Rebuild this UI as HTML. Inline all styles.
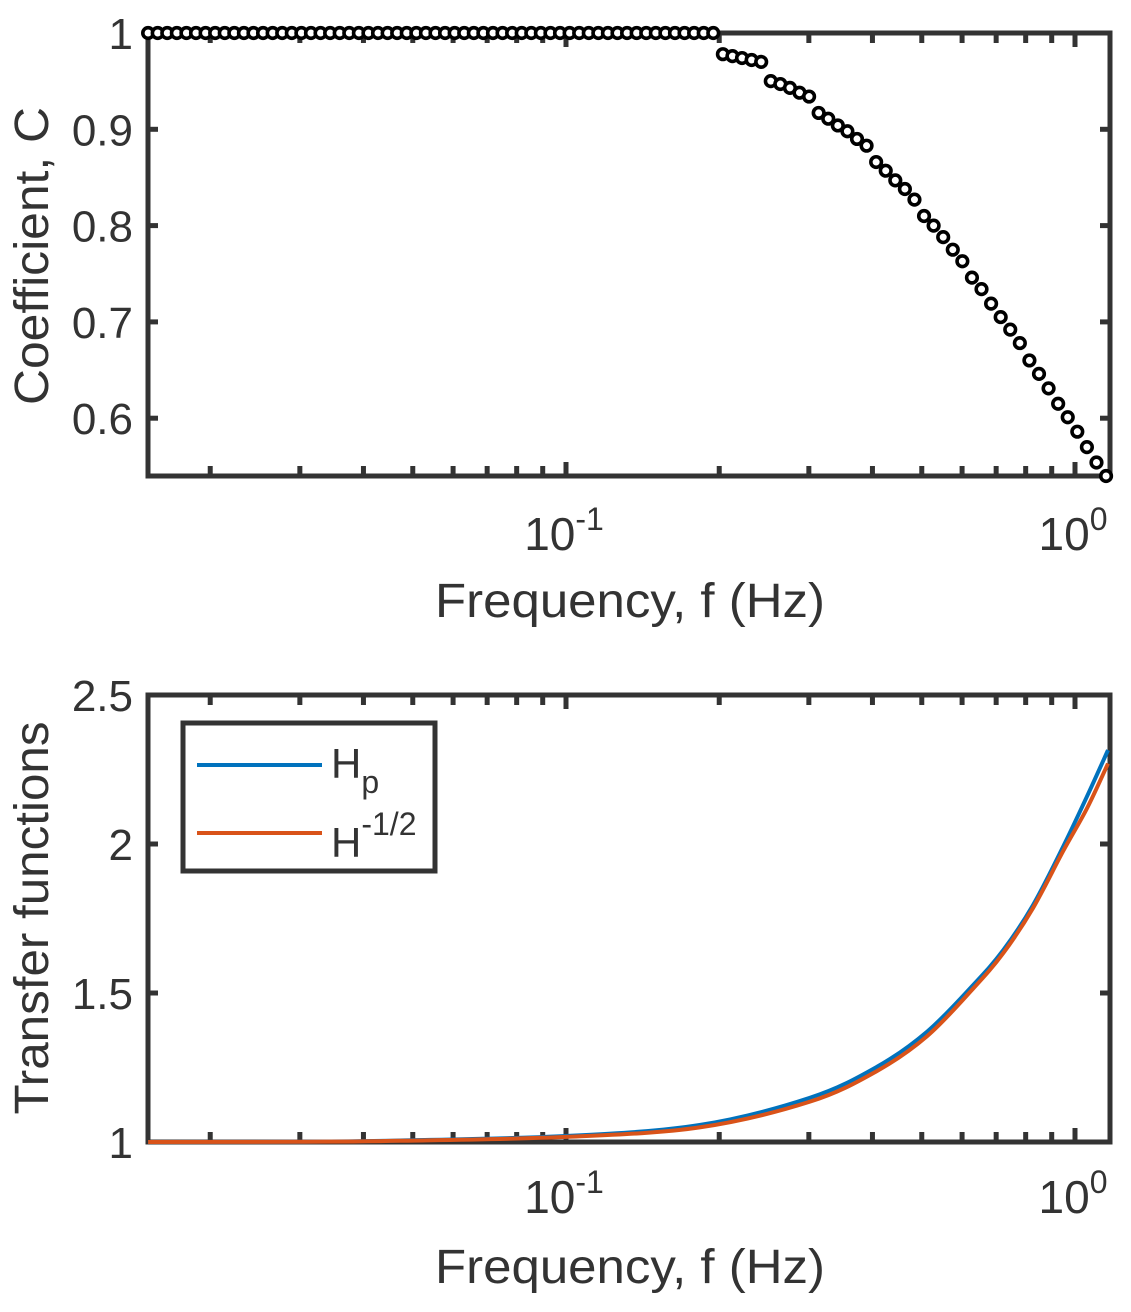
<!DOCTYPE html>
<html><head><meta charset="utf-8"><style>
html,body{margin:0;padding:0;background:#fff}
svg{display:block}
text{font-family:"Liberation Sans",Arial,sans-serif;fill:#333}
</style></head><body>
<svg id="fig" width="1131" height="1312" viewBox="0 0 1131 1312" xmlns="http://www.w3.org/2000/svg">
<g id="top"></g>
<g id="bot"></g>
</svg>
<script>
// ---- top chart data ----
const cValues = [1,1,1,1,1,1,1,1,1,1, 1,1,1,1,1,1,1,1,1,1, 1,1,1,1,1,1,1,1,1,1, 1,1,1,1,1,1,1,1,1,1, 1,1,1,1,1,1,1,1,1,1, 1,1,1,1,1,1,1,1,1,1,
 0.978,0.976,0.974,0.972,0.970,0.950,0.947,0.943,0.938,0.934,
 0.917,0.911,0.904,0.898,0.890,0.883,0.866,0.857,0.847,0.838,
 0.827,0.810,0.800,0.788,0.775,0.763,0.746,0.734,0.719,0.705,
 0.692,0.678,0.660,0.646,0.631,0.615,0.601,0.586,0.570,0.554,0.540];
const fStartLog = -1.821, fEndLog = 0.061;
const topYTicks = [0.6,0.7,0.8,0.9,1];
const topYTickLabels = ["0.6","0.7","0.8","0.9","1"];
// ---- bottom chart data ----
const hFreq = [0.0151,0.030,0.0472,0.1,0.183,0.301,0.408,0.512,0.631,0.723,0.827,0.947,1.056,1.161];
const hpValues = [1.0,1.001,1.005,1.02,1.057,1.148,1.252,1.37,1.527,1.644,1.795,1.99,2.16,2.315];
const hmValues = [1.0,1.001,1.004,1.017,1.049,1.135,1.238,1.355,1.515,1.634,1.785,1.975,2.12,2.27];
const botYTicks = [1,1.5,2,2.5];
const botYTickLabels = ["1","1.5","2","2.5"];
const xDecades = [0.1,1];
const xDecadeExp = ["-1","0"];

const NS="http://www.w3.org/2000/svg";
const AX={x0:148,x1:1110};
function xs(f){return 566+(Math.log10(f)+1)*509;}
function mk(tag,attrs,parent){const e=document.createElementNS(NS,tag);for(const k in attrs)e.setAttribute(k,attrs[k]);parent.appendChild(e);return e;}

function axes(g,y0,y1,ys,yt,ytl,ylabel,ylabCY,ylabLen,xlabBase,tickBase,prefix){
  const ticks=[];
  for(let d=0.01;d<2;d*=10)for(let k=1;k<10;k++){const f=d*k;const x=xs(f);if(x>AX.x0+2&&x<AX.x1-2)ticks.push([x,k===1]);}
  ticks.forEach(t=>{
    const len=t[1]?14:10;
    const a=mk('line',{x1:t[0],x2:t[0],y1:y1,y2:y1-len,stroke:'#333','stroke-width':5},g);
    
    const b=mk('line',{x1:t[0],x2:t[0],y1:y0,y2:y0+len,stroke:'#333','stroke-width':5},g);
    
  });
  yt.forEach((v,i)=>{
    const y=ys(v);
    const a=mk('line',{x1:AX.x0,x2:AX.x0+10,y1:y,y2:y,stroke:'#333','stroke-width':5},g);
    
    const b=mk('line',{x1:AX.x1,x2:AX.x1-10,y1:y,y2:y,stroke:'#333','stroke-width':5},g);
    
    const t=mk('text',{x:133,y:y+16,'font-size':44,'text-anchor':'end'},g);t.textContent=ytl[i];
    
  });
  xDecades.forEach((f,i)=>{
    const t=mk('text',{x:xs(f)-2,y:tickBase,'font-size':46,'text-anchor':'middle'},g);
    
    t.textContent='10';
    const s=mk('tspan',{dy:-20,'font-size':32},t);s.textContent=xDecadeExp[i];
  });
  const fr=mk('rect',{x:AX.x0,y:y0,width:AX.x1-AX.x0,height:y1-y0,fill:'none',stroke:'#333','stroke-width':5},g);
  
  const xl=mk('text',{x:630,y:xlabBase,'font-size':48,'text-anchor':'middle',textLength:390,lengthAdjust:'spacingAndGlyphs'},g);xl.textContent='Frequency, f (Hz)';
  
  const yl=mk('text',{x:0,y:0,'font-size':48,'text-anchor':'middle',textLength:ylabLen,lengthAdjust:'spacingAndGlyphs',transform:`translate(48,${ylabCY}) rotate(-90)`},g);yl.textContent=ylabel;
  
}

(function(){
  const g=document.getElementById('top');
  const y0=33,y1=476;
  const ys=v=>33+(1-v)*963;
  axes(g,y0,y1,ys,topYTicks,topYTickLabels,'Coefficient, C',256,298,617,550,'top');
  const n=cValues.length;
  cValues.forEach((v,i)=>{
    const lf=fStartLog+(fEndLog-fStartLog)*i/(n-1);
    const c=mk('circle',{cx:xs(Math.pow(10,lf)),cy:ys(v),r:5.3,fill:'#fff',stroke:'#000','stroke-width':3.6},g);
    
  });
})();

(function(){
  const g=document.getElementById('bot');
  const y0=695,y1=1142;
  const ys=v=>1142-(v-1)*298;
  axes(g,y0,y1,ys,botYTicks,botYTickLabels,'Transfer functions',918,393,1283,1213,'bottom');
  function path(vals){
    const p=hFreq.map((f,i)=>[xs(f),ys(vals[i])]);
    let d=`M${p[0][0]},${p[0][1]}`;
    for(let i=0;i<p.length-1;i++){
      const a=p[Math.max(0,i-1)],b=p[i],c=p[i+1],e=p[Math.min(p.length-1,i+2)];
      d+=` C${b[0]+(c[0]-a[0])/6},${b[1]+(c[1]-a[1])/6} ${c[0]-(e[0]-b[0])/6},${c[1]-(e[1]-b[1])/6} ${c[0]},${c[1]}`;
    }
    return d;
  }
  const l1=mk('path',{d:path(hpValues),fill:'none',stroke:'#0072BD','stroke-width':4},g);
  
  const l2=mk('path',{d:path(hmValues),fill:'none',stroke:'#D95319','stroke-width':4},g);
  
  const lg=mk('g',{},g);
  
  mk('rect',{x:183,y:723,width:252,height:148,fill:'#fff',stroke:'#333','stroke-width':5},lg);
  const e1=mk('line',{x1:197,x2:322,y1:765,y2:765,stroke:'#0072BD','stroke-width':4},lg);
  
  const e2=mk('line',{x1:197,x2:322,y1:833,y2:833,stroke:'#D95319','stroke-width':4},lg);
  
  const t1=mk('text',{x:331,y:778,'font-size':42},lg);t1.textContent='H';
  const s1=mk('tspan',{dy:15,'font-size':32},t1);s1.textContent='p';
  
  const t2=mk('text',{x:331,y:857,'font-size':42},lg);t2.textContent='H';
  const s2=mk('tspan',{dy:-22,'font-size':32},t2);s2.textContent='-1/2';
  
})();
</script>
</body></html>
